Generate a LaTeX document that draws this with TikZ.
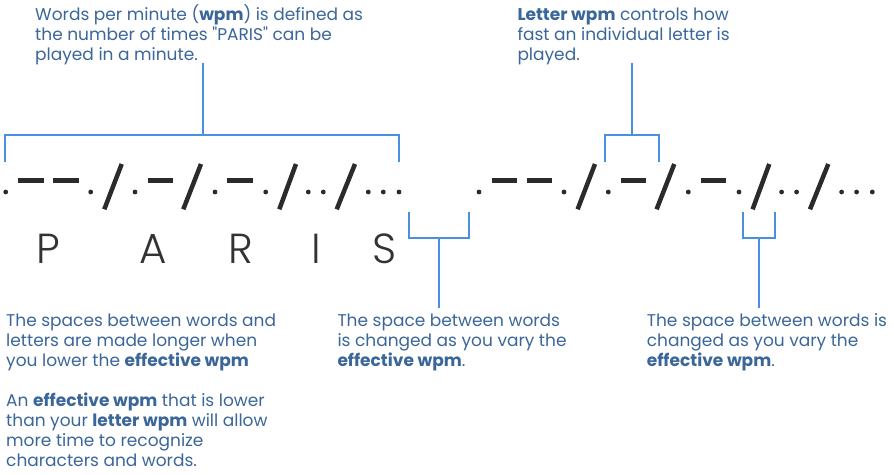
\documentclass[tikz,border=0pt]{standalone}
\usepackage{fontspec}
\setmainfont{Poppins}
\newfontfamily\parisfont{Poppins Light}
\newfontfamily\mcplain{Poppins}
\usepackage{tikz}
\usetikzlibrary{positioning}
\definecolor{mcText}{HTML}{3A6699}
\definecolor{mcLine}{HTML}{4A90E2}
\definecolor{mcInk}{HTML}{2B2B2B}
\definecolor{mcLetter}{HTML}{333333}
\tikzset{
  mcnote/.style={anchor=base west,align=left,inner sep=0pt,text=mcText,
                 font=\fontsize{17}{20}\selectfont},
  mcbrace/.style={draw=mcLine,line width=2pt},
  mcdot/.style={fill=mcInk,draw=none},
  mcdash/.style={draw=mcInk,line width=5pt},
  mcslash/.style={draw=mcInk,line width=4.5pt},
  mcletter/.style={anchor=base,inner sep=0pt,text=mcLetter,
                   font=\parisfont\fontsize{42}{42}\selectfont},
}
% straight double quote (no tex-text mapping)
\newcommand{\mcquote}{{\mcplain"}}
% one row of P A R I S in morse
\newcommand{\mcparis}{%
  \foreach \x in {5.7,90.7,135,215,265.7,308.3,323.3,368.3,383.3,399}
    \fill[mcdot] (\x,192) circle[radius=2.4pt];
  \draw[mcdash] (18.3,180) -- (44,180);
  \draw[mcdash] (53.3,180) -- (79,180);
  \draw[mcdash] (147.7,180) -- (172.7,180);
  \draw[mcdash] (227.3,180) -- (252.7,180);
  \draw[mcslash] (104.3,209.3) -- (121.7,164);
  \draw[mcslash] (183.3,209.3) -- (201,164);
  \draw[mcslash] (279.3,209.3) -- (296,164);
  \draw[mcslash] (336.7,209.3) -- (355,164);
}

\begin{document}
\begin{tikzpicture}[x=1pt,y=-1pt]
  \useasboundingbox (0,0) rectangle (894,474);

  % morse rows
  \mcparis
  \begin{scope}[xshift=473.3pt]
    \mcparis
  \end{scope}

  % letters
  \node[mcletter] (P) at (48,263) {P};
  \node[mcletter] (A) at (153,263) {A};
  \node[mcletter] (R) at (241,263) {R};
  \node[mcletter] (I) at (316.5,263) {I};
  \node[mcletter] (S) at (385,263) {S};

  % notes (placed by the baseline of their last line)
  \node[mcnote] (wpm) at (35,60.7)
    {Words per minute (\textbf{wpm}) is defined as\\the number of times \mcquote PARIS\mcquote{} can be\\played in a minute.};
  \node[mcnote] (letter) at (517.3,60.7)
    {\textbf{Letter wpm} controls how\\fast an individual letter is\\played.};
  \node[mcnote] (spaces) at (6,466.7)
    {The spaces between words and\\letters are made longer when\\you lower the \textbf{effective wpm}\\[20pt]
     An \textbf{effective wpm} that is lower\\than your \textbf{letter wpm} will allow\\more time to recognize\\characters and words.};
  \node[mcnote] (gapmid) at (337.3,366.7)
    {The space between words\\is changed as you vary the\\\textbf{effective wpm}.};
  \node[mcnote] (gapright) at (646.7,366.7)
    {The space between words is\\changed as you vary the\\\textbf{effective wpm}.};

  % brackets
  \coordinate (wpmtop) at (203,63);
  \coordinate (wpmbar) at (203,135);
  \coordinate (wpmL) at (5,162);
  \coordinate (wpmR) at (399,162);
  \draw[mcbrace] (wpmtop) -- (wpmbar);
  \draw[mcbrace] (wpmL) -- ++(0,-27) -| (wpmR);

  \coordinate (lettop) at (632.3,63);
  \coordinate (letbar) at (632.3,135);
  \coordinate (letL) at (605,162);
  \coordinate (letR) at (659,162);
  \draw[mcbrace] (lettop) -- (letbar);
  \draw[mcbrace] (letL) -- ++(0,-27) -| (letR);

  \coordinate (midL) at (409,211.7);
  \coordinate (midR) at (469,211.7);
  \coordinate (midbar) at (439.3,237.7);
  \coordinate (midend) at (439.3,308);
  \draw[mcbrace] (midL) -- ++(0,26) -| (midR);
  \draw[mcbrace] (midbar) -- (midend);

  \coordinate (rgtL) at (743,211.7);
  \coordinate (rgtR) at (775,211.7);
  \coordinate (rgtbar) at (759.3,237.7);
  \coordinate (rgtend) at (759.3,308);
  \draw[mcbrace] (rgtL) -- ++(0,26) -| (rgtR);
  \draw[mcbrace] (rgtbar) -- (rgtend);
\end{tikzpicture}
\end{document}
